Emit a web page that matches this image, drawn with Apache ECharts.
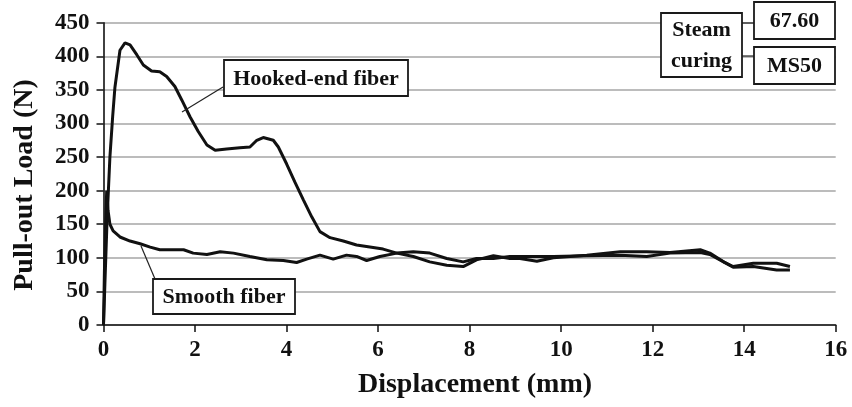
<!DOCTYPE html>
<html>
<head>
<meta charset="utf-8">
<script src="https://cdn.jsdelivr.net/npm/echarts@6/dist/echarts.min.js"></script>
<style>html,body{margin:0;padding:0;background:#fff}#c{width:852px;height:407px}</style>
</head>
<body>
<div id="c"></div>
<script>
// Displacement (mm) and Pull-out Load (N)
var hookedX = [0, 0.03, 0.08, 0.14, 0.2, 0.25, 0.36, 0.47, 0.58, 0.73, 0.87, 1.05, 1.23, 1.38, 1.56, 1.71, 1.89, 2.07, 2.26, 2.44, 2.69, 2.98, 3.2, 3.35, 3.49, 3.71, 3.82, 4.0, 4.18, 4.37, 4.55, 4.73, 4.95, 5.24, 5.53, 5.82, 6.11, 6.41, 6.77, 7.13, 7.5, 7.86, 8.15, 8.52, 8.88, 9.1, 9.47, 9.83, 10.56, 11.29, 11.87, 12.38, 13.04, 13.25, 13.55, 13.76, 14.2, 14.71, 15.0];
var hookedY = [0, 60, 160, 250, 310, 354, 409, 420, 417, 402, 387, 378, 377, 370, 355, 335, 310, 288, 268, 260, 262, 264, 265, 275, 279, 275, 265, 240, 213, 186, 161, 139, 130, 125, 119, 116, 113, 107, 102, 94, 89, 87, 97, 103, 99, 99, 95, 100, 104, 109, 109, 108, 112, 107, 94, 87, 92, 92, 87];
var smoothX = [0, 0.02, 0.05, 0.07, 0.1, 0.14, 0.21, 0.36, 0.58, 0.8, 1.02, 1.23, 1.53, 1.75, 1.96, 2.26, 2.55, 2.84, 3.2, 3.57, 3.93, 4.22, 4.44, 4.73, 5.02, 5.31, 5.53, 5.75, 6.04, 6.41, 6.77, 7.13, 7.5, 7.86, 8.15, 8.52, 8.88, 9.47, 9.83, 10.56, 11.29, 11.87, 12.38, 13.04, 13.25, 13.55, 13.76, 14.2, 14.71, 15.0];
var smoothY = [0, 80, 160, 200, 170, 150, 140, 131, 125, 121, 116, 112, 112, 112, 107, 105, 109, 107, 102, 97, 96, 93, 98, 104, 98, 104, 102, 96, 102, 107, 109, 107, 99, 94, 99, 99, 102, 102, 102, 103, 104, 102, 107, 108, 105, 94, 86, 87, 82, 82];
var seriesNames = ['Hooked-end fiber', 'Smooth fiber'];
var xTitle = 'Displacement (mm)';
var yTitle = 'Pull-out Load (N)';
var boxLabels = ['Steam\ncuring', '67.60', 'MS50'];

function pairs(xs, ys) { return xs.map(function (x, i) { return [x, ys[i]]; }); }

var FONT = '"Liberation Serif", "Times New Roman", serif';
var INK = '#111';

function box(x, y, w, h, text, lh) {
  return {
    type: 'group', z: 100,
    children: [
      { type: 'rect', z: 100, shape: { x: x, y: y, width: w, height: h },
        style: { fill: '#fff', stroke: '#1a1a1a', lineWidth: 1.8 } },
      { type: 'text', z: 101, x: x + w / 2, y: y + h / 2 + 1,
        style: { text: text, fill: INK, font: 'bold 22px ' + FONT, align: 'center', verticalAlign: 'middle', lineHeight: lh || 24 } }
    ]
  };
}
function line(x1, y1, x2, y2) {
  return { type: 'line', z: 99, shape: { x1: x1, y1: y1, x2: x2, y2: y2 }, style: { stroke: '#222', lineWidth: 1.2 } };
}

var chart = echarts.init(document.getElementById('c'), null, { renderer: 'canvas' });
chart.setOption({
  animation: false,
  backgroundColor: '#fff',
  grid: { left: 103.5, right: 16.3, top: 22.7, bottom: 82, containLabel: false, outerBoundsMode: 'none' },
  xAxis: {
    type: 'value', min: 0, max: 16, interval: 2,
    axisLine: { show: true, onZero: false, lineStyle: { color: '#111', width: 1.6 } },
    axisTick: { show: true, length: 7, lineStyle: { color: '#111', width: 1.5 } },
    axisLabel: { color: INK, fontFamily: FONT, fontWeight: 'bold', fontSize: 23, margin: 14 },
    splitLine: { show: false }
  },
  yAxis: {
    type: 'value', min: 0, max: 450, interval: 50,
    axisLine: { show: true, lineStyle: { color: '#111', width: 1.6 } },
    axisTick: { show: true, length: 7, lineStyle: { color: '#111', width: 1.5 } },
    axisLabel: { color: INK, fontFamily: FONT, fontWeight: 'bold', fontSize: 23, margin: 14 },
    splitLine: { show: true, lineStyle: { color: '#a6a6a6', width: 1.5 } }
  },
  series: [
    { name: seriesNames[0], type: 'line', data: pairs(hookedX, hookedY), showSymbol: false, symbol: 'none',
      lineStyle: { color: '#111', width: 3 }, z: 5 },
    { name: seriesNames[1], type: 'line', data: pairs(smoothX, smoothY), showSymbol: false, symbol: 'none',
      lineStyle: { color: '#111', width: 3 }, z: 5 }
  ],
  graphic: [
    { type: 'text', x: 475, y: 385, z: 50,
      style: { text: xTitle, fill: INK, font: 'bold 28px ' + FONT, align: 'center', verticalAlign: 'middle' } },
    { type: 'text', x: 25, y: 185, rotation: Math.PI / 2, z: 50,
      style: { text: yTitle, fill: INK, font: 'bold 28px ' + FONT, align: 'center', verticalAlign: 'middle' } },
    line(223, 87, 182, 112),
    box(224, 60, 184, 36, seriesNames[0]),
    line(155, 279, 141, 246),
    box(153, 279, 142, 35, seriesNames[1]),
    line(742, 23, 754, 23),
    line(742, 56, 754, 56),
    box(661, 13, 81, 64, boxLabels[0], 31),
    box(754, 2, 81, 37, boxLabels[1]),
    box(754, 47, 81, 37, boxLabels[2])
  ]
});
</script>
</body>
</html>
